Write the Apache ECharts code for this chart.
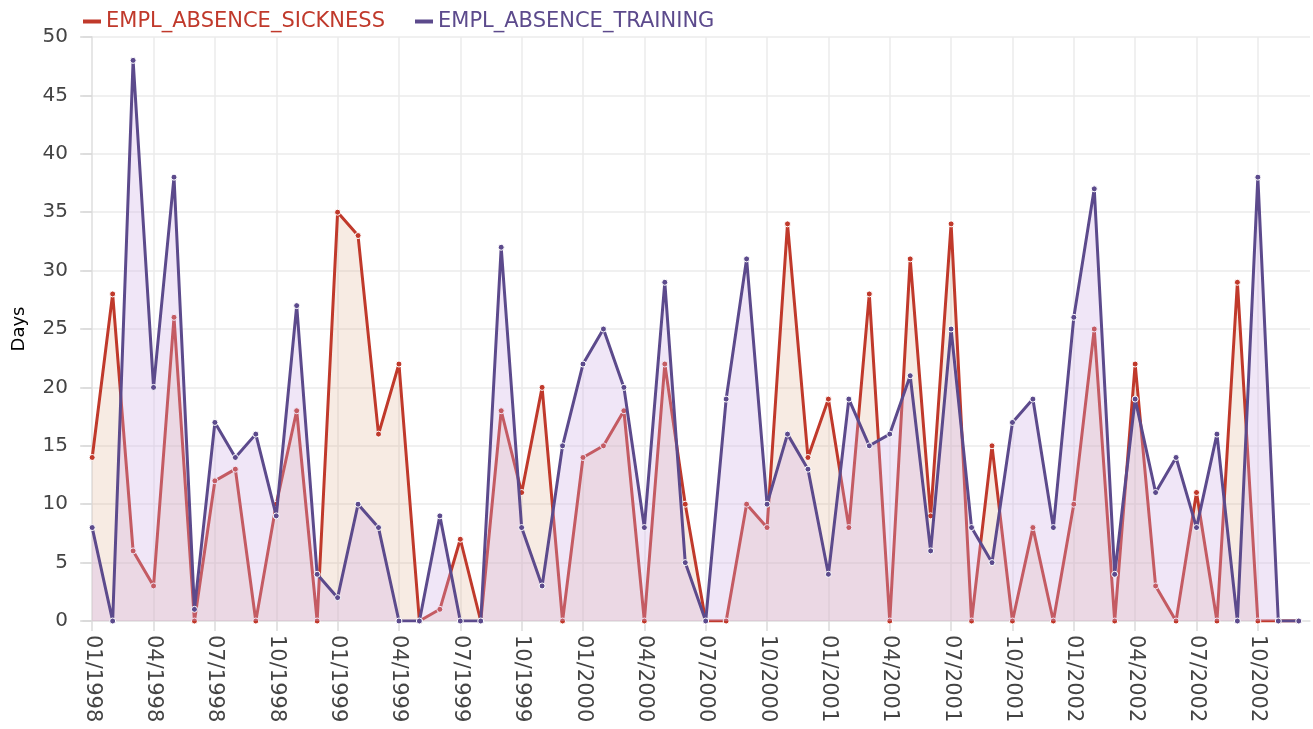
<!DOCTYPE html>
<html>
<head>
<meta charset="utf-8">
<script src="https://cdn.jsdelivr.net/npm/echarts@6/dist/echarts.min.js"></script>
<style>
  html, body { margin: 0; padding: 0; background: #fff; }
  #chart { width: 1313px; height: 729px; }
</style>
</head>
<body>
<div id="chart"></div>
<script>
const months = [
  '01/1998', '02/1998', '03/1998', '04/1998', '05/1998', '06/1998', '07/1998', '08/1998', '09/1998', '10/1998', '11/1998', '12/1998',
  '01/1999', '02/1999', '03/1999', '04/1999', '05/1999', '06/1999', '07/1999', '08/1999', '09/1999', '10/1999', '11/1999', '12/1999',
  '01/2000', '02/2000', '03/2000', '04/2000', '05/2000', '06/2000', '07/2000', '08/2000', '09/2000', '10/2000', '11/2000', '12/2000',
  '01/2001', '02/2001', '03/2001', '04/2001', '05/2001', '06/2001', '07/2001', '08/2001', '09/2001', '10/2001', '11/2001', '12/2001',
  '01/2002', '02/2002', '03/2002', '04/2002', '05/2002', '06/2002', '07/2002', '08/2002', '09/2002', '10/2002', '11/2002', '12/2002'
]
// month positions that carry a label (every quarter)
const labelIdx = [0, 3, 6, 9, 12, 15, 18, 21, 24, 27, 30, 33, 36, 39, 42, 45, 48, 51, 54, 57]
const yTicks = [0, 5, 10, 15, 20, 25, 30, 35, 40, 45, 50]

const sickness = [
  14, 28, 6, 3, 26, 0, 12, 13, 0, 10, 18, 0,
  35, 33, 16, 22, 0, 1, 7, 0, 18, 11, 20, 0,
  14, 15, 18, 0, 22, 10, 0, 0, 10, 8, 34, 14,
  19, 8, 28, 0, 31, 9, 34, 0, 15, 0, 8, 0,
  10, 25, 0, 22, 3, 0, 11, 0, 29, 0, 0, 0
]
const training = [
  8, 0, 48, 20, 38, 1, 17, 14, 16, 9, 27, 4,
  2, 10, 8, 0, 0, 9, 0, 0, 32, 8, 3, 15,
  22, 25, 20, 8, 29, 5, 0, 19, 31, 10, 16, 13,
  4, 19, 15, 16, 21, 6, 25, 8, 5, 17, 19, 8,
  26, 37, 4, 19, 11, 14, 8, 16, 0, 38, 0, 0
]

const RED = '#c0392b'
const PURPLE = '#5c4a8c'
const FONT = 'DejaVu Sans'

function toPoints(values) {
  return values.map((v, i) => [i, v])
}

function lineSeries(name, values, color, areaColor, z) {
  return {
    name: name,
    type: 'line',
    z: z,
    data: toPoints(values),
    symbol: 'circle',
    symbolSize: 6,
    showSymbol: true,
    lineStyle: { width: 3, color: color },
    itemStyle: { color: color, borderColor: '#fff', borderWidth: 1 },
    areaStyle: { color: areaColor, opacity: 1 },
    emphasis: { disabled: true }
  }
}

const chart = echarts.init(document.getElementById('chart'), null, { renderer: 'canvas' })
chart.setOption({
  animation: false,
  color: [RED, PURPLE],
  textStyle: { fontFamily: FONT },
  legend: {
    left: 78,
    top: 6,
    icon: 'rect',
    itemWidth: 18,
    itemHeight: 4,
    itemGap: 30,
    itemStyle: { borderWidth: 0 },
    textStyle: { fontSize: 21, fontFamily: FONT },
    data: [
      { name: 'EMPL_ABSENCE_SICKNESS', textStyle: { color: RED } },
      { name: 'EMPL_ABSENCE_TRAINING', textStyle: { color: PURPLE } }
    ]
  },
  grid: {
    left: 83,
    right: 3,
    top: 37,
    bottom: 108,
    containLabel: false
  },
  xAxis: {
    type: 'value',
    min: -0.45,
    max: 59.55,
    axisLine: { show: true, lineStyle: { color: '#e3e3e3', width: 1.5 } },
    axisTick: {
      show: true,
      customValues: labelIdx,
      length: 10,
      lineStyle: { color: '#dcdcdc', width: 1.5 }
    },
    axisLabel: {
      customValues: labelIdx,
      rotate: -90,
      margin: 14,
      fontSize: 21,
      color: '#444',
      fontFamily: FONT,
      formatter: v => months[Math.round(v)]
    },
    splitLine: {
      show: true,
      lineStyle: { color: '#ebebeb', width: 1.5 }
    }
  },
  yAxis: {
    type: 'value',
    min: 0,
    max: 50,
    interval: 5,
    name: 'Days',
    nameLocation: 'middle',
    nameRotate: 90,
    nameGap: 55,
    nameTextStyle: { color: '#000', fontSize: 18, fontFamily: FONT },
    axisLine: { show: true, lineStyle: { color: '#e3e3e3', width: 1.5 } },
    axisTick: { show: true, length: 12, lineStyle: { color: '#d6d6d6', width: 1.5 } },
    axisLabel: {
      margin: 15,
      fontSize: 20,
      color: '#444',
      fontFamily: FONT,
      customValues: yTicks
    },
    splitLine: { lineStyle: { color: '#ebebeb', width: 1.5 } }
  },
  series: [
    lineSeries('EMPL_ABSENCE_SICKNESS', sickness, RED, 'rgba(215,155,115,0.2)', 2),
    lineSeries('EMPL_ABSENCE_TRAINING', training, PURPLE, 'rgba(205,172,228,0.3)', 3)
  ]
})
</script>
</body>
</html>
